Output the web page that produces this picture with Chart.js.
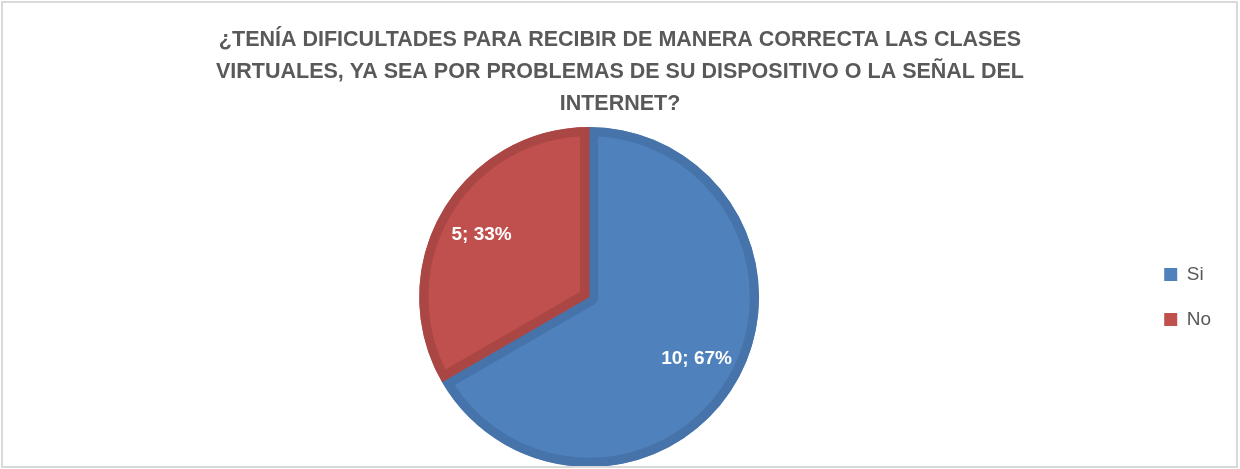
<!DOCTYPE html>
<html lang="es">
<head>
<meta charset="UTF-8">
<title>Dificultades para recibir clases virtuales</title>
<script src="https://cdn.jsdelivr.net/npm/chart.js"></script>
<style>
    html, body {
        margin: 0;
        padding: 0;
        background: #fff;
        overflow: hidden;
    }
    .chart-box {
        position: relative;
        width: 1240px;
        height: 469px;
    }
    /* marco gris del gráfico */
    .frame {
        position: absolute;
        left: 1px;
        top: 1px;
        width: 1237px;
        height: 467px;
        box-sizing: border-box;
        border: 2px solid #d9d9d9;
        pointer-events: none;
    }
</style>
</head>
<body>
<div class="chart-box">
    <canvas id="pieChart"></canvas>
    <div class="frame"></div>
</div>

<script>
// datos del gráfico
const categories = ['Si', 'No'];
const counts = [10, 5];
const titleLines = [
    '¿TENÍA DIFICULTADES PARA RECIBIR DE MANERA CORRECTA LAS CLASES',
    'VIRTUALES, YA SEA POR PROBLEMAS DE SU DISPOSITIVO O LA SEÑAL DEL',
    'INTERNET?'
];

const fillColors = ['#4f81bd', '#c0504d'];
const edgeColors = ['#4673aa', '#aa4744'];
const textGray = '#595959';

// etiquetas "valor; porcentaje" dentro de cada porción
const sliceLabels = {
    id: 'sliceLabels',
    afterDatasetsDraw(chart) {
        const ctx = chart.ctx;
        const meta = chart.getDatasetMeta(0);
        const total = counts.reduce((a, b) => a + b, 0);
        ctx.save();
        ctx.font = 'bold 19px "Liberation Sans", Arial, sans-serif';
        ctx.fillStyle = '#ffffff';
        ctx.textAlign = 'center';
        ctx.textBaseline = 'middle';
        meta.data.forEach((arc, i) => {
            const p = arc.getProps(['x', 'y', 'startAngle', 'endAngle', 'outerRadius'], true);
            const mid = (p.startAngle + p.endAngle) / 2;
            const r = p.outerRadius * 0.73;
            const pct = Math.round(counts[i] / total * 100);
            ctx.fillText(counts[i] + '; ' + pct + '%', p.x + Math.cos(mid) * r, p.y + Math.sin(mid) * r);
        });
        ctx.restore();
    }
};

// el título se centra en todo el ancho, no en el área con padding
const fullWidthTitle = {
    id: 'fullWidthTitle',
    afterLayout(chart) {
        const t = chart.titleBlock;
        if (t) {
            t.left = 0;
            t.right = chart.width;
            t.width = chart.width;
        }
    }
};

const ctx = document.getElementById('pieChart').getContext('2d');
new Chart(ctx, {
    type: 'pie',
    data: {
        labels: categories,
        datasets: [{
            data: counts,
            backgroundColor: fillColors,
            borderColor: edgeColors,
            borderWidth: 9,
            borderAlign: 'inner',
            radius: 170
        }]
    },
    options: {
        responsive: true,
        maintainAspectRatio: false,
        animation: false,
        layout: {
            padding: { top: 0, bottom: 2, left: 40, right: 19 }
        },
        plugins: {
            tooltip: { enabled: false },
            title: {
                display: true,
                text: titleLines,
                color: textGray,
                font: {
                    family: '"Liberation Sans", Arial, sans-serif',
                    size: 21.5,
                    weight: 'bold',
                    lineHeight: '32px'
                },
                padding: { top: 24, bottom: 7 }
            },
            legend: {
                position: 'right',
                fullSize: false,
                labels: {
                    color: textGray,
                    boxWidth: 13,
                    boxHeight: 13,
                    padding: 26,
                    font: {
                        family: '"Liberation Sans", Arial, sans-serif',
                        size: 19
                    },
                    generateLabels(chart) {
                        const base = Chart.overrides.pie.plugins.legend.labels.generateLabels(chart);
                        return base.map(item => ({ ...item, lineWidth: 0 }));
                    }
                }
            }
        }
    },
    plugins: [sliceLabels, fullWidthTitle]
});
</script>
</body>
</html>
